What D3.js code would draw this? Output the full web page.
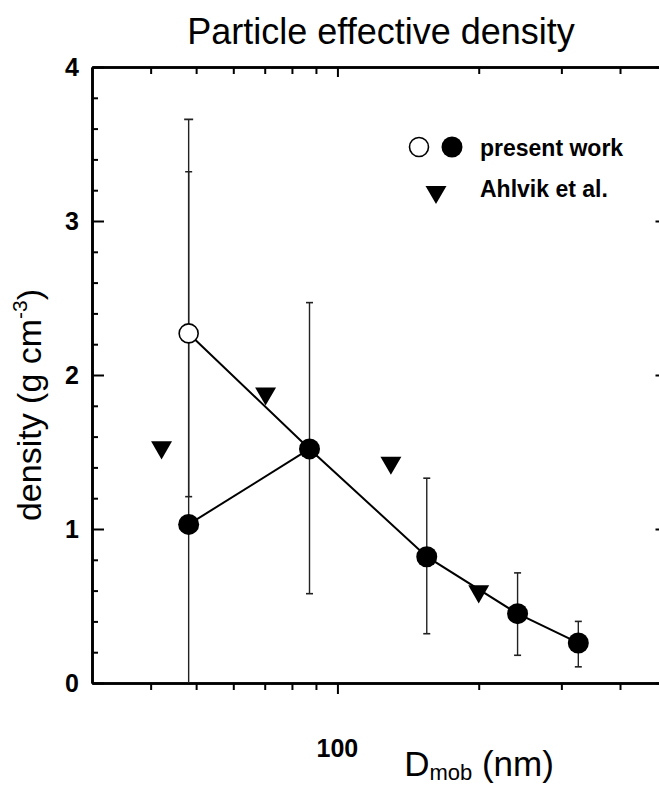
<!DOCTYPE html>
<html>
<head>
<meta charset="utf-8">
<script src="https://cdn.jsdelivr.net/npm/d3@7"></script>
<style>
  body { margin: 0; background: #fff; }
  text { font-family: "Liberation Sans", Arial, sans-serif; fill: #000; }
</style>
</head>
<body>
<div id="chart"></div>
<script>
// data
var presentD = [48.2, 87.2, 155, 242, 326];
var presentRho = [1.03, 1.52, 0.82, 0.45, 0.26];
var presentLo = [-1.26, 0.58, 0.32, 0.18, 0.105];
var presentHi = [3.32, 2.47, 1.33, 0.715, 0.40];

var openD = [48.2];
var openRho = [2.27];
var openLo = [1.21];
var openHi = [3.66];

var ahlvikD = [42.2, 70.3, 130, 200];
var ahlvikRho = [1.53, 1.88, 1.43, 0.595];

var yTicks = [0, 1, 2, 3, 4];
var xMinorTicks = [40, 50, 60, 70, 80, 90, 200, 300, 400];
var xMajorTicks = [100];

var svg_width = 659;
var svg_height = 786;

// 1) canvas
var svg = d3.select("#chart")
    .append("svg")
    .attr("width", svg_width)
    .attr("height", svg_height);

var plotLeft = 92, plotTop = 67, plotBottom = 683, plotRight = 665.5;

// 2) scales
var xScale = d3.scaleLog()
    .domain([30, 500])
    .range([plotLeft, plotRight]);

var yScale = d3.scaleLinear()
    .domain([0, 4])
    .range([plotBottom, plotTop]);

var yMinor = d3.range(0, 4.01, 0.2).filter(d => Math.abs(d - Math.round(d)) > 0.01);

// 3) axes (ticks inward on left/top/right, outward on bottom)
var leftAxis = d3.axisLeft(yScale).tickValues(yTicks).tickSize(-12).tickSizeOuter(0).tickFormat("");
var leftMinor = d3.axisLeft(yScale).tickValues(yMinor).tickSize(-6).tickSizeOuter(0).tickFormat("");
var rightAxis = d3.axisRight(yScale).tickValues(yTicks).tickSize(-10).tickSizeOuter(0).tickFormat("");
var rightMinor = d3.axisRight(yScale).tickValues(yMinor).tickSize(-6).tickSizeOuter(0).tickFormat("");
var bottomMajor = d3.axisBottom(xScale).tickValues(xMajorTicks).tickSize(11).tickSizeOuter(0).tickFormat("");
var bottomMinor = d3.axisBottom(xScale).tickValues(xMinorTicks).tickSize(7).tickSizeOuter(0).tickFormat("");
var topMajor = d3.axisTop(xScale).tickValues(xMajorTicks).tickSize(-10).tickSizeOuter(0).tickFormat("");
var topMinor = d3.axisTop(xScale).tickValues(xMinorTicks).tickSize(-7).tickSizeOuter(0).tickFormat("");

function addAxis(ax, tr) {
    var g = svg.append("g").attr("transform", tr).call(ax);
    g.selectAll(".domain").attr("stroke", "#000").attr("stroke-width", 2.6);
    g.selectAll(".tick line").attr("stroke", "#000").attr("stroke-width", 2);
    return g;
}

addAxis(leftMinor, `translate(${plotLeft},0)`);
addAxis(leftAxis, `translate(${plotLeft},0)`);
addAxis(rightMinor, `translate(${plotRight},0)`);
addAxis(rightAxis, `translate(${plotRight},0)`);
addAxis(bottomMinor, `translate(0,${plotBottom})`);
addAxis(bottomMajor, `translate(0,${plotBottom})`);
addAxis(topMinor, `translate(0,${plotTop})`);
addAxis(topMajor, `translate(0,${plotTop})`);

// tick labels
svg.append("g").selectAll("text")
    .data(yTicks)
    .enter()
    .append("text")
    .attr("x", 79)
    .attr("y", d => yScale(d))
    .attr("dy", "0.36em")
    .attr("text-anchor", "end")
    .attr("font-size", 25)
    .attr("font-weight", "bold")
    .text(d => d);

svg.append("g").selectAll("text")
    .data(xMajorTicks)
    .enter()
    .append("text")
    .attr("x", d => xScale(d))
    .attr("y", 757)
    .attr("text-anchor", "middle")
    .attr("font-size", 25)
    .attr("font-weight", "bold")
    .text(d => d);

// 4) plot area clip
svg.append("clipPath").attr("id", "clip")
    .append("rect")
    .attr("x", plotLeft).attr("y", plotTop)
    .attr("width", plotRight - plotLeft).attr("height", plotBottom - plotTop);

var plot = svg.append("g").attr("clip-path", "url(#clip)");

// 5) error bars
var bars = presentD.map((d, i) => ({ d: d, lo: presentLo[i], hi: presentHi[i] }))
    .concat(openD.map((d, i) => ({ d: d, lo: openLo[i], hi: openHi[i], wide: true })));

plot.append("g").selectAll("line")
    .data(bars)
    .enter()
    .append("line")
    .attr("x1", d => xScale(d.d))
    .attr("x2", d => xScale(d.d))
    .attr("y1", d => yScale(d.lo))
    .attr("y2", d => yScale(d.hi))
    .attr("stroke", "#222")
    .attr("stroke-width", 1.4);

var caps = [];
bars.forEach(function(b) {
    caps.push({ d: b.d, v: b.hi, w: b.wide ? 4.5 : 3.5 });
    if (b.lo > 0) caps.push({ d: b.d, v: b.lo, w: 3.5 });
});

plot.append("g").selectAll("line")
    .data(caps)
    .enter()
    .append("line")
    .attr("x1", d => xScale(d.d) - d.w)
    .attr("x2", d => xScale(d.d) + d.w)
    .attr("y1", d => yScale(d.v))
    .attr("y2", d => yScale(d.v))
    .attr("stroke", "#222")
    .attr("stroke-width", 1.6);

// 6) connecting lines
var line = d3.line().x(d => xScale(d[0])).y(d => yScale(d[1]));

var openLine = [[openD[0], openRho[0]]].concat(presentD.slice(1).map((d, i) => [d, presentRho[i + 1]]));
var filledLine = [[presentD[0], presentRho[0]], [presentD[1], presentRho[1]]];

plot.append("path")
    .attr("d", line(openLine))
    .attr("fill", "none")
    .attr("stroke", "#000")
    .attr("stroke-width", 2);

plot.append("path")
    .attr("d", line(filledLine))
    .attr("fill", "none")
    .attr("stroke", "#000")
    .attr("stroke-width", 2);

// 7) markers
plot.append("g").selectAll("circle")
    .data(presentD)
    .enter()
    .append("circle")
    .attr("cx", d => xScale(d))
    .attr("cy", (d, i) => yScale(presentRho[i]))
    .attr("r", 10.5)
    .attr("fill", "#000");

plot.append("g").selectAll("circle")
    .data(openD)
    .enter()
    .append("circle")
    .attr("cx", d => xScale(d))
    .attr("cy", (d, i) => yScale(openRho[i]))
    .attr("r", 9.5)
    .attr("fill", "#fff")
    .attr("stroke", "#000")
    .attr("stroke-width", 1.6);

var tri = d3.symbol().type(d3.symbolTriangle).size(190);

plot.append("g").selectAll("path")
    .data(ahlvikD)
    .enter()
    .append("path")
    .attr("d", tri)
    .attr("transform", (d, i) => `translate(${xScale(d)},${yScale(ahlvikRho[i])}) rotate(180)`)
    .attr("fill", "#000");

// 8) legend
svg.append("circle").attr("cx", 419).attr("cy", 147).attr("r", 9.5)
    .attr("fill", "#fff").attr("stroke", "#000").attr("stroke-width", 1.6);
svg.append("circle").attr("cx", 452).attr("cy", 147).attr("r", 10.5).attr("fill", "#000");
svg.append("path").attr("d", tri)
    .attr("transform", "translate(436,192) rotate(180)")
    .attr("fill", "#000");

svg.append("text").attr("x", 480).attr("y", 156)
    .attr("font-size", 23).attr("font-weight", "bold")
    .text("present work");
svg.append("text").attr("x", 480).attr("y", 197)
    .attr("font-size", 23).attr("font-weight", "bold")
    .text("Ahlvik et al.");

// 9) titles
svg.append("text")
    .attr("x", 381)
    .attr("y", 44)
    .attr("text-anchor", "middle")
    .attr("font-size", 36)
    .text("Particle effective density");

var xLab = svg.append("text")
    .attr("x", 479)
    .attr("y", 776)
    .attr("text-anchor", "middle")
    .attr("font-size", 35);
xLab.append("tspan").text("D");
xLab.append("tspan").attr("font-size", 22).attr("dy", 4).text("mob");
xLab.append("tspan").attr("dy", -4).text(" (nm)");

var yLab = svg.append("text")
    .attr("transform", "translate(41,405) rotate(-90)")
    .attr("text-anchor", "middle")
    .attr("font-size", 34);
yLab.append("tspan").text("density (g cm");
yLab.append("tspan").attr("font-size", 21).attr("dy", -14).text("-3");
yLab.append("tspan").attr("dy", 14).text(")");
</script>
</body>
</html>
